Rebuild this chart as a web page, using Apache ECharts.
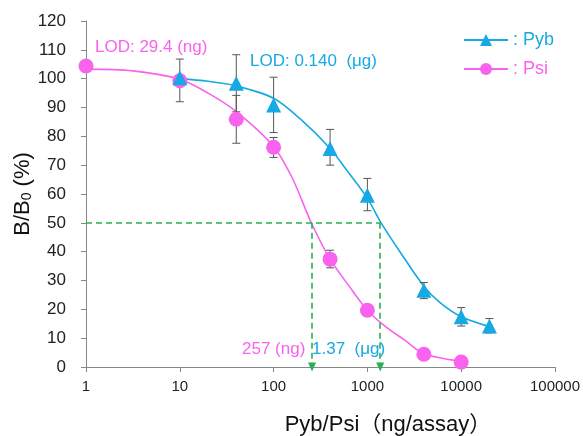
<!DOCTYPE html>
<html lang="en">
<head>
    <meta charset="UTF-8">
    <script src="https://cdn.jsdelivr.net/npm/echarts@6.0.0/dist/echarts.min.js"></script>
    <title>Pyb / Psi</title>
    <style>
        html, body { margin: 0; padding: 0; background: #fff; }
        #main { width: 583px; height: 436px; }
    </style>
</head>
<body>
    <div id="main"></div>
    <script type="text/javascript">
        // measured points (ng/assay, B/B0 %)
        let pybX = [10, 40, 100, 400, 1000, 4000, 10000, 20000];
        let pybY = [100.3, 98.4, 90.9, 75.8, 59.6, 26.6, 17.4, 14.2];
        let pybLo = [null, 88.5, 81.3, 70.0, 54.2, 23.7, 14.2, 11.8];
        let pybHi = [null, 108.3, 100.5, 82.4, 65.4, 29.3, 20.6, 16.8];

        let psiX = [1, 10, 40, 100, 400, 1000, 4000, 10000];
        let psiY = [104.4, 99.3, 85.9, 76.2, 37.4, 19.7, 4.4, 1.7];
        let psiLo = [null, 92.0, 77.6, 72.7, 34.4, null, null, null];
        let psiHi = [null, 106.8, 94.2, 79.6, 40.5, null, null, null];

        // fitted curves
        let pybCurveX = [10, 20, 40, 100, 190, 400, 620, 1000, 1400, 2230, 4000, 5950, 10000, 20000];
        let pybCurveY = [100, 99.1, 97.5, 93.2, 86.2, 75.8, 67.7, 58.5, 50, 39.9, 28, 22.3, 17.4, 14];
        let psiCurveX = [1, 3.16, 10, 20, 40, 100, 160, 250, 400, 630, 1000, 1600, 2500, 4000, 10000];
        let psiCurveY = [103.3, 102.7, 99.8, 95, 88.6, 76.5, 65.2, 50.3, 37.4, 28.3, 19.7, 13.7, 9.3, 4.6, 2];

        let ic50Psi = 257;
        let ic50Pyb = 1370;

        let blue = '#17a9e3';
        let pink = '#f862ee';
        let green = '#2bb04f';
        let font = '"Liberation Sans", Arial, sans-serif';

        function pairs(xs, ys) {
            return xs.map((x, i) => [x, ys[i]]);
        }
        function errData(xs, lo, hi) {
            let out = [];
            xs.forEach((x, i) => {
                if (lo[i] != null) out.push([x, lo[i], hi[i]]);
            });
            return out;
        }
        function errorBars(params, api) {
            let x = api.value(0);
            let top = api.coord([x, api.value(2)]);
            let bot = api.coord([x, api.value(1)]);
            let w = 4;
            let st = { stroke: '#555', lineWidth: 1 };
            return {
                type: 'group',
                children: [
                    { type: 'line', shape: { x1: top[0], y1: top[1], x2: bot[0], y2: bot[1] }, style: st },
                    { type: 'line', shape: { x1: top[0] - w, y1: top[1], x2: top[0] + w, y2: top[1] }, style: st },
                    { type: 'line', shape: { x1: bot[0] - w, y1: bot[1], x2: bot[0] + w, y2: bot[1] }, style: st }
                ]
            };
        }

        let myChart = echarts.init(document.getElementById('main'));

        let option = {
            animation: false,
            grid: { left: 86, right: 28, top: 21, bottom: 69, outerBoundsMode: 'none' },
            legend: {
                orient: 'vertical',
                left: 458,
                top: 26,
                itemWidth: 44,
                itemHeight: 15,
                itemGap: 11,
                formatter: ': {name}',
                textStyle: { fontFamily: font, fontSize: 18 },
                data: [
                    { name: 'Pyb', textStyle: { color: blue } },
                    { name: 'Psi', textStyle: { color: pink } }
                ]
            },
            xAxis: {
                type: 'log',
                logBase: 10,
                min: 1,
                max: 100000,
                name: 'Pyb/Psi（ng/assay）',
                nameLocation: 'middle',
                nameGap: 47,
                nameMoveOverlap: false,
                nameTextStyle: {
                    fontFamily: '"Liberation Sans", "Noto Sans CJK JP", sans-serif',
                    fontSize: 22,
                    color: '#111',
                    padding: [0, 0, 0, 135]
                },
                axisLine: { lineStyle: { color: '#888' } },
                axisTick: { length: 5, lineStyle: { color: '#888' } },
                minorTick: { show: false },
                splitLine: { show: false },
                axisLabel: {
                    fontFamily: font,
                    fontSize: 15,
                    color: '#222',
                    margin: 12,
                    formatter: v => String(Math.round(v))
                }
            },
            yAxis: {
                type: 'value',
                min: 0,
                max: 120,
                interval: 10,
                name: 'B/B{sub|0} (%)',
                nameLocation: 'middle',
                nameGap: 52,
                nameMoveOverlap: false,
                nameTextStyle: {
                    fontFamily: font,
                    fontSize: 22,
                    color: '#111',
                    rich: {
                        sub: { fontFamily: font, fontSize: 14, color: '#111', padding: [9, 0, 0, 0] }
                    }
                },
                axisLine: { show: true, lineStyle: { color: '#888' } },
                axisTick: { show: true, length: 5, lineStyle: { color: '#888' } },
                splitLine: { show: false },
                axisLabel: { fontFamily: font, fontSize: 17, color: '#222', margin: 20 }
            },
            series: [
                {
                    name: 'Pyb',
                    type: 'line',
                    smooth: 0.3,
                    symbol: 'triangle',
                    symbolSize: 15,
                    showSymbol: false,
                    itemStyle: { color: blue },
                    lineStyle: { color: blue, width: 1.6 },
                    data: pairs(pybCurveX, pybCurveY),
                    z: 3
                },
                {
                    name: 'Psi',
                    type: 'line',
                    smooth: 0.3,
                    symbol: 'circle',
                    symbolSize: 15,
                    showSymbol: false,
                    itemStyle: { color: pink },
                    lineStyle: { color: pink, width: 1.6 },
                    data: pairs(psiCurveX, psiCurveY),
                    z: 3,
                    markLine: {
                        silent: true,
                        symbol: ['none', 'none'],
                        label: { show: false },
                        lineStyle: { color: green, type: [6, 4], width: 1.6 },
                        data: [
                            [{ coord: [1, 50] }, { coord: [ic50Pyb, 50] }],
                            [{ coord: [ic50Psi, 50] }, { coord: [ic50Psi, 0], symbol: 'triangle', symbolSize: [8, 9], symbolRotate: 180 }],
                            [{ coord: [ic50Pyb, 50] }, { coord: [ic50Pyb, 0], symbol: 'triangle', symbolSize: [8, 9], symbolRotate: 180 }]
                        ]
                    }
                },
                {
                    type: 'custom',
                    renderItem: errorBars,
                    data: errData(psiX, psiLo, psiHi),
                    z: 4
                },
                {
                    type: 'custom',
                    renderItem: errorBars,
                    data: errData(pybX, pybLo, pybHi),
                    z: 4
                },
                {
                    type: 'scatter',
                    symbol: 'circle',
                    symbolSize: 15,
                    itemStyle: { color: pink, opacity: 1 },
                    data: pairs(psiX, psiY),
                    z: 5
                },
                {
                    type: 'scatter',
                    symbol: 'triangle',
                    symbolSize: 15,
                    itemStyle: { color: blue, opacity: 1 },
                    data: pairs(pybX, pybY),
                    z: 6
                }
            ],
            graphic: [
                { type: 'text', left: 95, top: 39, style: { text: 'LOD: 29.4 (ng)', fill: pink, font: '17px ' + font } },
                { type: 'text', left: 250, top: 53, style: { text: 'LOD: 0.140  (μg)', fill: blue, font: '17px ' + font } },
                { type: 'text', left: 242, top: 341, style: { text: '257 (ng)', fill: pink, font: '17px ' + font } },
                { type: 'text', left: 312, top: 341, style: { text: '1.37  (μg)', fill: blue, font: '17px ' + font } }
            ]
        };

        myChart.setOption(option);
    </script>
</body>
</html>
